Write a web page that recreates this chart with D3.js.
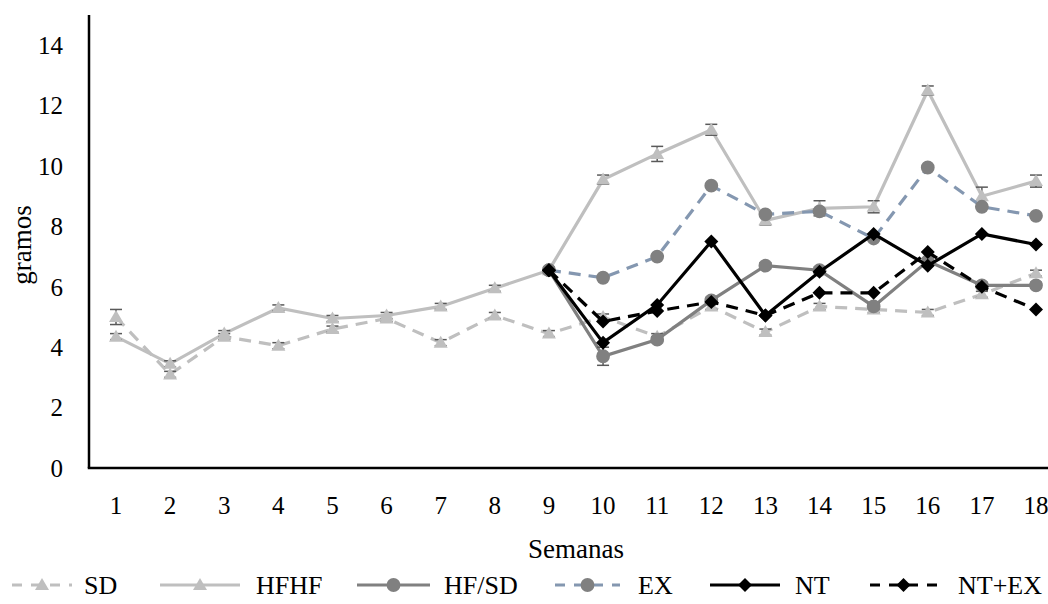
<!DOCTYPE html>
<html>
<head>
<meta charset="utf-8">
<script src="https://cdn.jsdelivr.net/npm/d3@7"></script>
<style>
  body { margin: 0; background: #fff; }
</style>
</head>
<body>
<div id="chart"></div>
<script>
// weekly weights (gramos) per group
const weeks = [1, 2, 3, 4, 5, 6, 7, 8, 9, 10, 11, 12, 13, 14, 15, 16, 17, 18];
const yTicks = [0, 2, 4, 6, 8, 10, 12, 14];

const sd    = [5.0, 3.1, 4.35, 4.05, 4.6, 4.95, 4.15, 5.05, 4.45, 5.0, 4.35, 5.35, 4.5, 5.35, 5.25, 5.15, 5.75, 6.45];
const hfhf  = [4.35, 3.45, 4.45, 5.3, 4.95, 5.05, 5.35, 5.95, 6.55, 9.55, 10.4, 11.2, 8.2, 8.6, 8.65, 12.5, 9.0, 9.5];
const hfsd  = [null, null, null, null, null, null, null, null, 6.55, 3.7, 4.25, 5.55, 6.7, 6.55, 5.35, 6.85, 6.05, 6.05];
const ex    = [null, null, null, null, null, null, null, null, 6.55, 6.3, 7.0, 9.35, 8.4, 8.5, 7.6, 9.95, 8.65, 8.35];
const nt    = [null, null, null, null, null, null, null, null, 6.55, 4.15, 5.4, 7.5, 5.05, 6.5, 7.75, 6.7, 7.75, 7.4];
const ntex  = [null, null, null, null, null, null, null, null, 6.55, 4.85, 5.2, 5.5, 5.05, 5.8, 5.8, 7.15, 6.0, 5.25];

// error bar half-lengths
const sdErr   = [0.25, 0.1, 0.1, 0.1, 0.1, 0.1, 0.1, 0.1, 0.1, 0.1, 0.1, 0.1, 0.1, 0.1, 0.1, 0.1, 0.1, 0.1];
const hfhfErr = [0.1, 0.1, 0.1, 0.1, 0.1, 0.1, 0.1, 0.1, 0.1, 0.15, 0.25, 0.18, 0.15, 0.25, 0.2, 0.15, 0.3, 0.2];
const hfsdErr = [null, null, null, null, null, null, null, null, 0.1, 0.3, 0.1, 0.1, 0.1, 0.1, 0.1, 0.1, 0.1, 0.1];

const seriesNames = ["SD", "HFHF", "HF/SD", "EX", "NT", "NT+EX"];

const FONT = "'Liberation Serif', 'Times New Roman', Times, serif";

function drawChart() {
    const width = 1048, height = 604;
    const margin = { top: 16, right: -15, bottom: 136, left: 89 };

    const svg = d3.select("#chart").append("svg")
        .attr("width", width)
        .attr("height", height)
        .style("font-family", FONT);

    const x = d3.scalePoint()
        .domain(weeks)
        .range([margin.left + 27, width - margin.right - 27]);
    const y = d3.scaleLinear()
        .domain([0, 15])
        .range([height - margin.bottom, height - margin.bottom - 15 * 30.2]);

    // series styles
    const styles = [
        { name: "SD",    values: sd,   err: sdErr,   stroke: "#bfbfbf", dash: "12,8", marker: "tri",  fill: "#bfbfbf" },
        { name: "HFHF",  values: hfhf, err: hfhfErr, stroke: "#bfbfbf", dash: null,   marker: "tri",  fill: "#bfbfbf" },
        { name: "HF/SD", values: hfsd, err: hfsdErr, stroke: "#808080", dash: null,   marker: "circ", fill: "#808080" },
        { name: "EX",    values: ex,   err: null,    stroke: "#8497b0", dash: "12,8", marker: "circ", fill: "#808080" },
        { name: "NT",    values: nt,   err: null,    stroke: "#000000", dash: null,   marker: "dia",  fill: "#000000" },
        { name: "NT+EX", values: ntex, err: null,    stroke: "#000000", dash: "12,8", marker: "dia",  fill: "#000000" }
    ];

    function markerPath(type) {
        if (type === "tri") return "M0,-7L7,5L-7,5Z";
        if (type === "circ") return d3.symbol(d3.symbolCircle, 150)();
        return "M0,-7L7,0L0,7L-7,0Z";
    }

    function addText(sel, size) {
        return sel.append("text")
            .attr("font-family", FONT)
            .attr("font-size", size)
            .attr("fill", "#000");
    }

    // axes
    const yAxisG = svg.append("g").attr("transform", `translate(${margin.left},0)`);
    yAxisG.append("line")
        .attr("x1", 0).attr("x2", 0)
        .attr("y1", y(15)).attr("y2", y(0))
        .attr("stroke", "#000").attr("stroke-width", 2.5);
    yTicks.forEach(t => {
        addText(yAxisG, 25)
            .attr("x", -26)
            .attr("y", y(t))
            .attr("dy", "0.35em")
            .attr("text-anchor", "end")
            .text(t);
    });

    const xAxisG = svg.append("g");
    xAxisG.append("line")
        .attr("x1", margin.left - 1.25).attr("x2", width)
        .attr("y1", y(0)).attr("y2", y(0))
        .attr("stroke", "#000").attr("stroke-width", 2.5);
    weeks.forEach(w => {
        addText(xAxisG, 25)
            .attr("x", x(w))
            .attr("y", y(0) + 37)
            .attr("dy", "0.35em")
            .attr("text-anchor", "middle")
            .text(w);
    });

    addText(svg, 27)
        .attr("x", 576).attr("y", 549)
        .attr("dy", "0.35em")
        .attr("text-anchor", "middle")
        .text("Semanas");
    addText(svg, 27)
        .attr("transform", "translate(22,245) rotate(-90)")
        .attr("dy", "0.35em")
        .attr("text-anchor", "middle")
        .text("gramos");

    // lines, error bars, markers
    const line = d3.line()
        .defined(d => d.v !== null)
        .x(d => x(d.w))
        .y(d => y(d.v));

    styles.forEach(s => {
        const pts = weeks.map((w, i) => ({ w: w, v: s.values[i], e: s.err ? s.err[i] : null }));
        const g = svg.append("g");
        g.append("path")
            .datum(pts)
            .attr("d", line)
            .attr("fill", "none")
            .attr("stroke", s.stroke)
            .attr("stroke-width", 3.2)
            .attr("stroke-dasharray", s.dash);

        const eb = pts.filter(d => d.v !== null && d.e);
        const ebG = g.append("g").attr("stroke", "#595959").attr("stroke-width", 1.5);
        ebG.selectAll("line.v").data(eb).enter().append("line")
            .attr("x1", d => x(d.w)).attr("x2", d => x(d.w))
            .attr("y1", d => y(d.v - d.e)).attr("y2", d => y(d.v + d.e));
        ebG.selectAll("line.t").data(eb).enter().append("line")
            .attr("x1", d => x(d.w) - 6).attr("x2", d => x(d.w) + 6)
            .attr("y1", d => y(d.v + d.e)).attr("y2", d => y(d.v + d.e));
        ebG.selectAll("line.b").data(eb).enter().append("line")
            .attr("x1", d => x(d.w) - 6).attr("x2", d => x(d.w) + 6)
            .attr("y1", d => y(d.v - d.e)).attr("y2", d => y(d.v - d.e));

        g.selectAll("path.mk")
            .data(pts.filter(d => d.v !== null))
            .enter().append("path")
            .attr("class", "mk")
            .attr("transform", d => `translate(${x(d.w)},${y(d.v)})`)
            .attr("d", markerPath(s.marker))
            .attr("fill", s.fill);
    });

    // legend
    const legendPos = [
        { x1: 12,  x2: 72,  tx: 84 },
        { x1: 160, x2: 240, tx: 256 },
        { x1: 357, x2: 430, tx: 444 },
        { x1: 555, x2: 620, tx: 638 },
        { x1: 710, x2: 780, tx: 795 },
        { x1: 870, x2: 937, tx: 958 }
    ];
    const ly = 585;
    const legend = svg.append("g");
    styles.forEach((s, i) => {
        const p = legendPos[i];
        legend.append("line")
            .attr("x1", p.x1).attr("x2", p.x2)
            .attr("y1", ly).attr("y2", ly)
            .attr("stroke", s.stroke)
            .attr("stroke-width", 3.2)
            .attr("stroke-dasharray", s.dash ? "10,9" : null);
        legend.append("path")
            .attr("transform", `translate(${(p.x1 + p.x2) / 2},${ly})`)
            .attr("d", markerPath(s.marker))
            .attr("fill", s.fill);
        addText(legend, 26)
            .attr("x", p.tx).attr("y", ly)
            .attr("dy", "0.35em")
            .text(seriesNames[i]);
    });
}

drawChart();
</script>
</body>
</html>
